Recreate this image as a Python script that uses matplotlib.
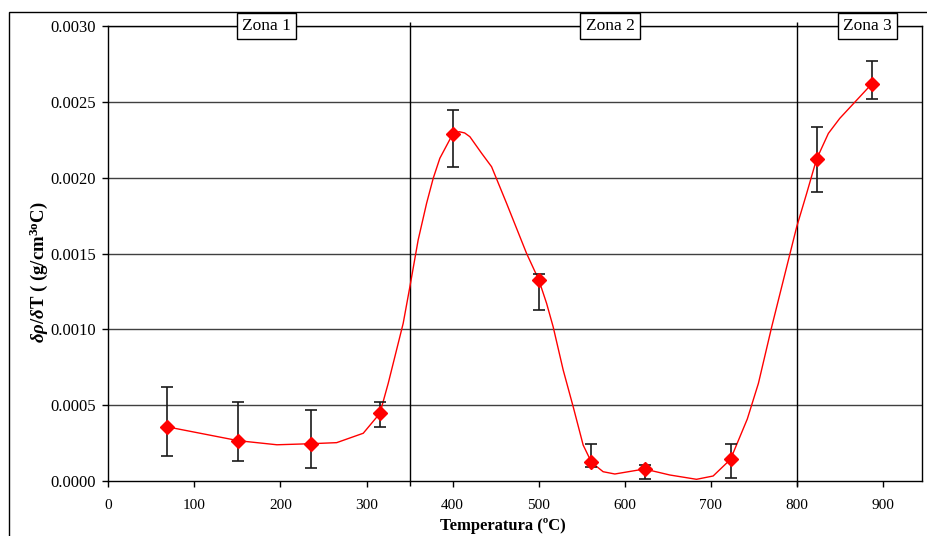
import matplotlib
matplotlib.use('Agg')
import matplotlib.pyplot as plt
from matplotlib.patches import Rectangle
import numpy as np

#%% Data

# Measured points (temperature in C, d rho / dT)
temp = [68, 151, 235, 316, 400, 500, 561, 623, 723, 823, 887]
drho = [0.000358, 0.000266, 0.000246, 0.000447, 0.002287, 0.001326,
        0.000123, 0.0000792, 0.000143, 0.002122, 0.002617]

# Error bar ends
err_top = [0.000622, 0.000523, 0.000470, 0.000523, 0.002447, 0.001363,
           0.000244, 0.000108, 0.000244, 0.002335, 0.002770]
err_bot = [0.000167, 0.000134, 0.0000877, 0.000358, 0.002073, 0.001128,
           0.0000904, 0.0000112, 0.0000178, 0.001908, 0.002520]

# Smoothed red curve
curve_t = [67.8, 151, 195.9, 235.4, 265.3, 296.2, 315.6, 325.2, 336.8,
           342.6, 350.4, 360, 369.8, 377.5, 385.2, 400, 407.7, 414.0,
           420.1, 433.7, 445.3, 462.7, 485.9, 500.2, 509.2, 516.8, 528.5,
           540.1, 551.7, 561.4, 574.9, 588.5, 622.9, 652.4, 683.4, 702.7,
           722.9, 742.4, 755.3, 770.8, 782.4, 792.1, 799.8, 811.4, 822.8,
           836.6, 849.8, 886.6]
curve_v = [0.000358, 0.000266, 0.000239, 0.000246, 0.000253, 0.000315,
           0.000447, 0.000644, 0.000908, 0.001040, 0.001282, 0.001590,
           0.001832, 0.001997, 0.002129, 0.002287, 0.002304, 0.002296,
           0.002271, 0.002162, 0.002073, 0.001832, 0.001502, 0.001326,
           0.001172, 0.001018, 0.000732, 0.000490, 0.000237, 0.000123,
           0.0000613, 0.0000462, 0.0000792, 0.0000396, 0.0000112, 0.000033,
           0.000143, 0.000409, 0.000644, 0.001018, 0.001282, 0.001502,
           0.001677, 0.001898, 0.002122, 0.002293, 0.002392, 0.002617]

# Zone boundaries and labels
zone_lines = [350, 800]
zone_names = ['Zona 1', 'Zona 2', 'Zona 3']
zone_pos = [184, 583, 882]

x_ticks = np.arange(0, 901, 100)
y_ticks = np.arange(0, 0.00301, 0.0005)

#%% Plot

plt.rcParams['font.family'] = 'Liberation Serif'
plt.rcParams['mathtext.fontset'] = 'custom'
plt.rcParams['mathtext.rm'] = 'Liberation Serif:bold'
plt.rcParams['mathtext.it'] = 'Liberation Serif:italic:bold'
plt.rcParams['mathtext.bf'] = 'Liberation Serif:bold'

fig = plt.figure(figsize=(9.28, 5.36), dpi=100)
ax = fig.add_axes([0.1167, 0.1026, 0.8765, 0.8485])

# outer chart frame
fig.patches.append(Rectangle((9/928, -0.1), 1.2, 1.1 - 12/536,
                             transform=fig.transFigure, fill=False,
                             edgecolor='black', lw=1.0, zorder=0))

for yy in y_ticks[1:]:
    ax.axhline(yy, color='#404040', lw=1.0, zorder=1)

ax.vlines(zone_lines, -0.00003, 0.00303, color='black', lw=1.0,
          clip_on=False, zorder=1)

ax.plot(curve_t, curve_v, '-', color='red', lw=1.0, zorder=3)

yerr = [np.array(drho) - np.array(err_bot), np.array(err_top) - np.array(drho)]
ax.errorbar(temp, drho, yerr=yerr, fmt='none', ecolor='#1a1a1a',
            elinewidth=1.2, capsize=4, capthick=1.2, zorder=4)
ax.plot(temp, drho, 'D', color='red', markersize=7, zorder=5)

for name, xp in zip(zone_names, zone_pos):
    ax.text(xp, 0.00300, name, ha='center', va='center', fontsize=12.5,
            bbox=dict(boxstyle='square,pad=0.3', facecolor='white',
                      edgecolor='black', lw=1.0), zorder=6, clip_on=False)

ax.set_xlim(0, 945)
ax.set_ylim(0, 0.0030)
ax.set_xticks(x_ticks)
ax.set_yticks(y_ticks)
ax.set_yticklabels(['{:.4f}'.format(v) for v in y_ticks], fontsize=12)
ax.set_xticklabels([str(v) for v in x_ticks], fontsize=11)
ax.tick_params(axis='y', direction='out', length=4, width=1, pad=5)
ax.tick_params(axis='x', direction='out', length=4, width=1, pad=9)

for sp in ax.spines.values():
    sp.set_color('black')
    sp.set_linewidth(1.0)

ax.set_xlabel('Temperatura (ºC)', fontsize=12, fontweight='bold')
ax.xaxis.set_label_coords(0.485, -0.082)
ax.set_ylabel(r'$\delta\rho/\delta\mathrm{T}$ ( (g/cm$^{\mathrm{3o}}$C)',
              fontsize=13.5, fontweight='bold')
ax.yaxis.set_label_coords(-0.072, 0.46)

plt.savefig('out.png', dpi=100)
